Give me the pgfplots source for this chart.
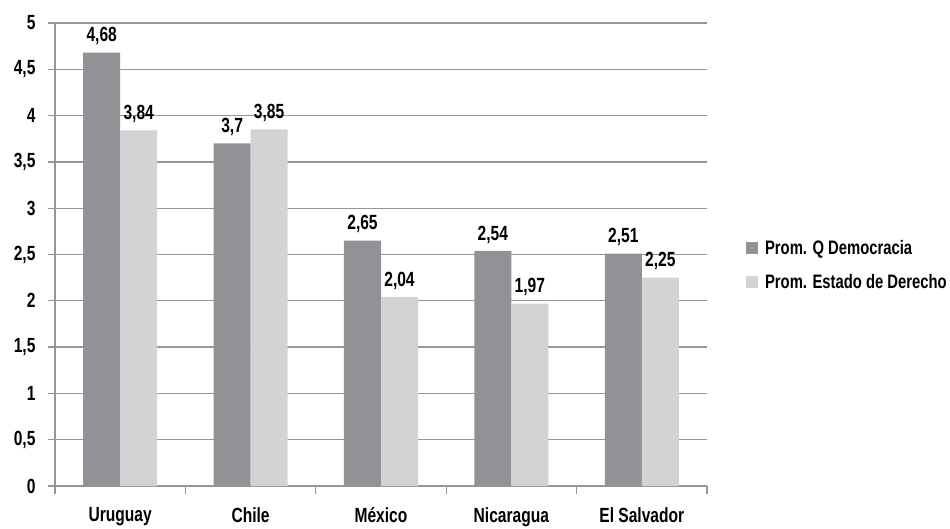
\documentclass[border=0pt]{standalone}
\usepackage{pgfplots}
\pgfplotsset{compat=1.18}
\usepackage{fontspec}
\setmainfont{Liberation Sans}[FakeStretch=0.76]
\definecolor{darkbar}{RGB}{146,146,150}
\definecolor{lightbar}{RGB}{211,211,213}
\definecolor{gridc}{RGB}{150,150,150}
\begin{document}
\begin{tikzpicture}
\useasboundingbox (-55pt,-42pt) rectangle (895pt,486pt);
\begin{axis}[
  at={(0,0)}, anchor=south west,
  scale only axis, width=652pt, height=463pt,
  ybar=0pt, bar width=37pt,
  xmin=-0.5, xmax=4.5, ymin=0, ymax=5,
  axis x line=bottom, axis y line=left,
  axis line style={-, draw=gridc, line width=1.3pt},
  xtick={0,1,2,3,4},
  xticklabels={Uruguay,Chile,México,Nicaragua,El Salvador},
  minor xtick={-0.5,0.5,1.5,2.5,3.5,4.5},
  ytick={0,0.5,...,5},
  major x tick style={draw=none},
  minor x tick style={draw=gridc, line width=1.3pt},
  minor tick length=8pt,
  y tick style={draw=gridc, line width=1.3pt},
  major tick length=7pt,
  tick align=outside,
  ymajorgrids, grid style={draw=gridc, line width=1.3pt},
  /pgf/number format/assume math mode=true,
  /pgf/number format/use comma, /pgf/number format/fixed,
  yticklabel style={font=\bfseries\fontsize{20.5}{22}\selectfont, xshift=-9pt},
  xticklabel style={font=\bfseries\fontsize{20.5}{22}\selectfont, yshift=-11pt},
  nodes near coords,
  nodes near coords style={font=\bfseries\fontsize{20.5}{22}\selectfont, text=black, yshift=4pt,
    /pgf/number format/assume math mode=true, /pgf/number format/use comma},
  legend style={at={(1.055,0.477)}, anchor=west, draw=none, fill=none,
    font=\bfseries\fontsize{19.5}{21}\selectfont, row sep=14pt,
    /tikz/every odd column/.append style={column sep=5pt}},
  legend image code/.code={\fill[#1] (0pt,-6pt) rectangle (12pt,6pt);},
  legend cell align=left,
]
\addplot[fill=darkbar, draw=none] coordinates {(0,4.68) (1,3.7) (2,2.65) (3,2.54) (4,2.51)};
\addlegendentry{Prom. Q Democracia}
\addplot[fill=lightbar, draw=none] coordinates {(0,3.84) (1,3.85) (2,2.04) (3,1.97) (4,2.25)};
\addlegendentry{Prom. Estado de Derecho}
\end{axis}
\end{tikzpicture}
\end{document}
